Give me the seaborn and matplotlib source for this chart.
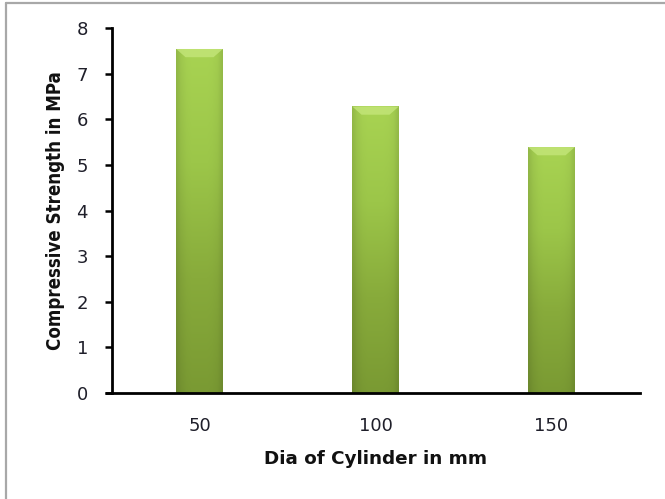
import numpy as np
import pandas as pd
import matplotlib
matplotlib.use("Agg")
import matplotlib.pyplot as plt
from matplotlib.colors import LinearSegmentedColormap
from matplotlib.lines import Line2D
import seaborn as sns

# Compressive strength of cylinders of different diameter
diameters = ["50", "100", "150"]
strength = [7.54, 6.28, 5.39]
y_ticks = [0, 1, 2, 3, 4, 5, 6, 7, 8]

sns.set_theme(style="white")
plt.rcParams["font.family"] = ["DejaVu Sans"]

df = pd.DataFrame({"Dia": diameters, "Strength": strength})

fig = plt.figure(figsize=(6.65, 4.99), dpi=100)
ax = fig.add_axes([0.1677, 0.2124, 0.7940, 0.7315])

sns.barplot(data=df, x="Dia", y="Strength", ax=ax, color="#93bb45",
            width=0.265, saturation=1, edgecolor="none")

# green gradient with a bevelled top on every bar
cmap = LinearSegmentedColormap.from_list(
    "bar", ["#7a9a33", "#88ab3b", "#9cc649", "#a8d352"])
horiz = np.array([0.5, 0.8, 0.95, 1.0, 1.0, 1.0, 1.0, 0.97, 0.88, 0.55])
for patch in list(ax.patches):
    x0, y0 = patch.get_x(), patch.get_y()
    w, h = patch.get_width(), patch.get_height()
    if h <= 0:
        continue
    ny, nx = 200, 60
    vert = np.linspace(0, 1, ny)[:, None] * np.ones((1, nx))
    img = cmap(vert)
    shade = np.interp(np.linspace(0, 1, nx), np.linspace(0, 1, len(horiz)), horiz)
    img[..., :3] = img[..., :3] * (0.75 + 0.25 * shade[None, :, None])
    im = ax.imshow(img, extent=[x0, x0 + w, y0, y0 + h], origin="lower",
                   aspect="auto", zorder=2, interpolation="bilinear")
    im.set_clip_path(patch)
    patch.set_zorder(1)
    # bevel highlight at the top
    top_h = 0.18
    bevel = np.array([[x0, y0 + h], [x0 + w, y0 + h],
                      [x0 + w * 0.8, y0 + h - top_h], [x0 + w * 0.2, y0 + h - top_h]])
    ax.add_patch(plt.Polygon(bevel, closed=True, facecolor="#c4e67a",
                             edgecolor="none", alpha=0.8, zorder=3))

ax.set_xlim(-0.5, 2.5)
ax.set_ylim(0, 8)
ax.set_yticks(y_ticks)

for side in ["top", "right"]:
    ax.spines[side].set_visible(False)
for side in ["left", "bottom"]:
    ax.spines[side].set_color("black")
    ax.spines[side].set_linewidth(2.0)
    ax.spines[side].set_zorder(5)

# category axis runs a little past the value axis on the left
ax.plot([-0.012, 0], [0, 0], transform=ax.transAxes, color="black",
        linewidth=2.0, clip_on=False, zorder=5, solid_capstyle="butt")

ax.tick_params(axis="y", which="major", direction="out", length=5, width=1.8,
               color="black", left=True, pad=12, labelsize=13, labelcolor="#1f1f2a")
ax.tick_params(axis="x", which="major", length=0, pad=17, labelsize=13,
               labelcolor="#1f1f2a")

ax.set_xlabel("Dia of Cylinder in mm", fontsize=13.2, fontweight="bold",
              color="#111111", labelpad=11)
ax.set_ylabel("Compressive Strength in MPa", fontsize=13.4, fontweight="bold",
              fontstretch="condensed", color="#111111", labelpad=8)

# outer frame edges
fig.add_artist(Line2D([0.009, 1.0], [0.994, 0.994], transform=fig.transFigure,
                      color="#a8a8a8", linewidth=1.6))
fig.add_artist(Line2D([0.009, 0.009], [0.0, 0.994], transform=fig.transFigure,
                      color="#a8a8a8", linewidth=1.6))

fig.savefig("out.png", dpi=100)
